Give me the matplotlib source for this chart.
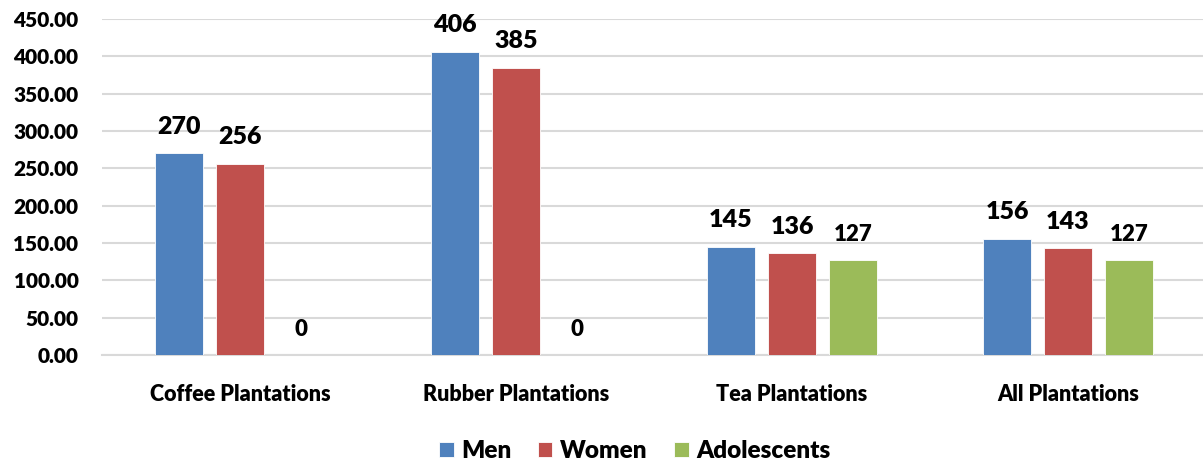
import matplotlib
matplotlib.use("Agg")
from matplotlib import pyplot as plt
import numpy as np

categorias = ["Coffee Plantations", "Rubber Plantations", "Tea Plantations", "All Plantations"]
series = ["Men", "Women", "Adolescents"]
men = [270, 406, 145, 156]
women = [256, 385, 136, 143]
adolescents = [0, 0, 127, 127]

cores = ["#4F81BD", "#C0504D", "#9BBB59"]
tam_rotulo = [18, 18, 16]
peso = "heavy"

plt.rcParams["font.family"] = ["Lato", "DejaVu Sans"]
plt.rcParams["font.weight"] = peso

fig = plt.figure(figsize=(12.03, 4.63), dpi=100)
ax = fig.add_axes([102 / 1203, 108 / 463, 1104 / 1203, 336 / 463])

x = np.arange(len(categorias))
largura = 0.174
passo = 0.221

for i, (nome, valores) in enumerate(zip(series, [men, women, adolescents])):
    pos = x + (i - 1) * passo
    barras = ax.bar(pos, valores, largura, color=cores[i], label=nome,
                    edgecolor="white", linewidth=0.6, zorder=3)
    for b, v in zip(barras, valores):
        ax.annotate(f"{v:.0f}", (b.get_x() + b.get_width() / 2, v),
                    xytext=(0, 14), textcoords="offset points",
                    ha="center", va="baseline", fontsize=tam_rotulo[i],
                    fontweight=peso, color="black")

ax.set_xlim(-0.5, 3.5)
ax.set_ylim(0, 450)
ax.set_yticks(np.arange(0, 451, 50))
ax.set_yticklabels([f"{t:.2f}" for t in np.arange(0, 451, 50)], fontsize=15, fontweight=peso)
ax.set_xticks(x)
ax.set_xticklabels(categorias, fontsize=15.5, fontweight=peso)
ax.tick_params(axis="y", length=0, pad=17)
ax.tick_params(axis="x", length=0, pad=21)
ax.grid(axis="y", color="#d9d9d9", linewidth=1.5, zorder=0)
for lado in ["top", "right", "left"]:
    ax.spines[lado].set_visible(False)
ax.spines["bottom"].set_color("#d9d9d9")
ax.spines["bottom"].set_linewidth(1.5)

fig.legend(loc="center", bbox_to_anchor=(0.5275, 1 - 451 / 463), ncol=3,
           frameon=False, handlelength=0.6, handleheight=0.6,
           handletextpad=0.3, columnspacing=1.1,
           prop={"weight": peso, "size": 17.5})

fig.savefig("out.png", dpi=100)
